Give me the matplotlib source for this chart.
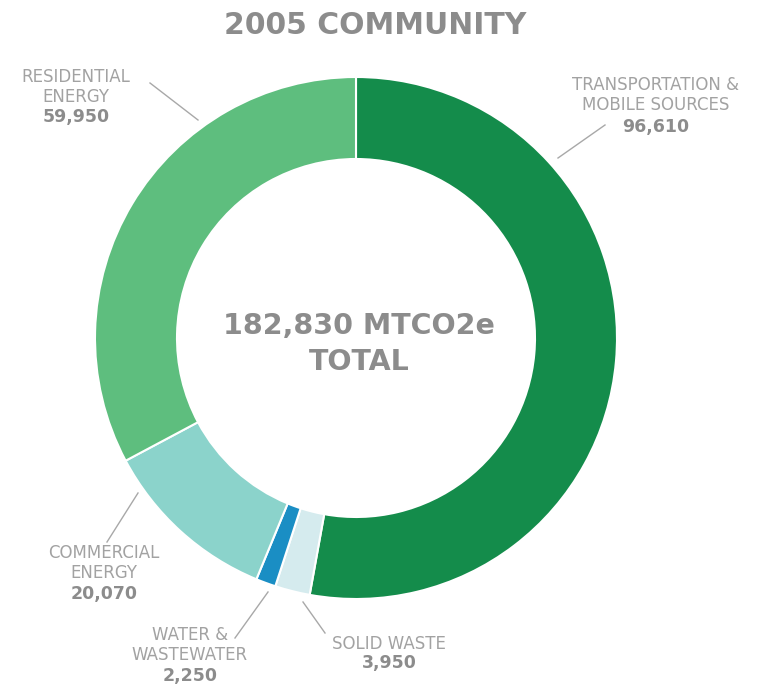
import matplotlib.pyplot as plt

categories = ["TRANSPORTATION &\nMOBILE SOURCES", "SOLID WASTE", "WATER &\nWASTEWATER",
              "COMMERCIAL\nENERGY", "RESIDENTIAL\nENERGY"]
values = [96610, 3950, 2250, 20070, 59950]
value_labels = ["96,610", "3,950", "2,250", "20,070", "59,950"]
colors = ["#148c4b", "#d5ebee", "#1a8ec4", "#8bd3cb", "#5ebe7e"]
total_label = "182,830 MTCO2e\nTOTAL"
title = "2005 COMMUNITY"

gray = "#8c8c8c"

fig = plt.figure(figsize=(7.58, 6.85), dpi=100)
ax = fig.add_axes([0, 0, 1, 1])

# work in pixel coords, y measured downwards from the top
def y(v):
    return 685 - v

cx, cy, r = 356, 338, 261
ax.pie(values, colors=colors, startangle=90, counterclock=False,
       center=(cx, y(cy)), radius=r, frame=True,
       wedgeprops=dict(width=82, edgecolor="white", linewidth=1.5))

ax.text(375, y(25), title, ha="center", va="center", fontsize=21.5,
        fontweight="bold", color=gray, family="DejaVu Sans")
ax.text(cx + 3, y(344), total_label, ha="center", va="center", fontsize=20.5,
        fontweight="bold", color=gray, linespacing=1.35, family="DejaVu Sans")

# label anchors (name centre x, name centre y, value centre y) and leader lines
label_pos = [(656, 95, 127), (389, 644, 663), (190, 645, 676),
             (104, 563, 594), (76, 87, 117)]
leaders = [((558, 158), (605, 125)), ((303, 602), (325, 633)),
           ((268, 592), (235, 638)), ((138, 493), (107, 542)),
           ((198, 120), (150, 83))]

for name, val, (lx, ny, vy), (p0, p1) in zip(categories, value_labels, label_pos, leaders):
    ax.text(lx, y(ny), name, ha="center", va="center", fontsize=12,
            color="#a2a2a2", linespacing=1.1, family="DejaVu Sans")
    ax.text(lx, y(vy), val, ha="center", va="center", fontsize=12.5,
            fontweight="bold", color=gray, family="DejaVu Sans")
    ax.plot([p0[0], p1[0]], [y(p0[1]), y(p1[1])], color="#a8a8a8", lw=1)

ax.set_xlim(0, 758)
ax.set_ylim(0, 685)
ax.set_aspect("equal")
ax.axis("off")

fig.savefig("out.png", dpi=100)
